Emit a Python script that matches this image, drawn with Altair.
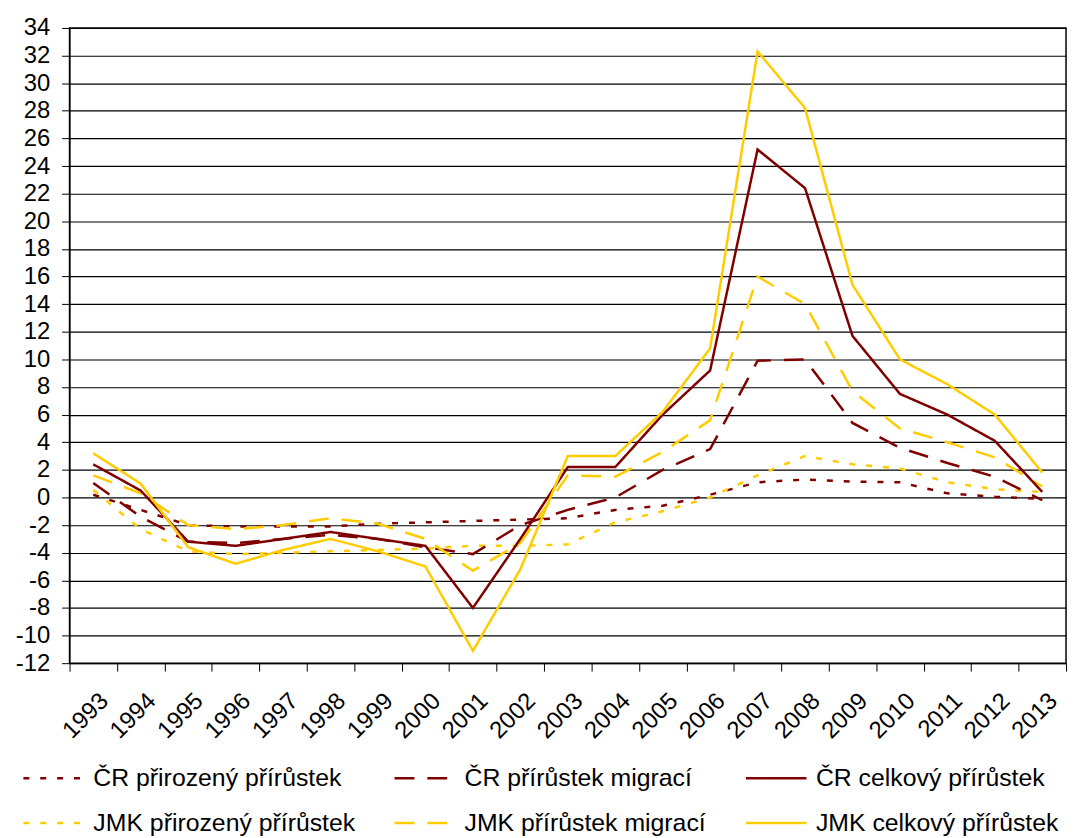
import altair as alt
import pandas as pd

years = ["1993", "1994", "1995", "1996", "1997", "1998", "1999", "2000", "2001", "2002",
         "2003", "2004", "2005", "2006", "2007", "2008", "2009", "2010", "2011", "2012", "2013"]

# order chosen so that the 3-column legend (filled column by column) reads as in the reference
series = ["ČR přirozený přírůstek", "JMK přirozený přírůstek",
          "ČR přírůstek migrací", "JMK přírůstek migrací",
          "ČR celkový přírůstek", "JMK celkový přírůstek"]

cr_nat = [0.2, -0.9, -2.0, -2.1, -2.1, -2.1, -1.9, -1.8, -1.7, -1.6, -1.5,
          -0.9, -0.6, 0.2, 1.1, 1.3, 1.15, 1.1, 0.3, 0.05, -0.1]
cr_mig = [1.05, -1.4, -3.2, -3.3, -3.0, -2.7, -3.0, -3.6, -4.1, -2.0, -0.9,
          0.0, 2.0, 3.5, 9.9, 10.0, 5.4, 3.6, 2.5, 1.5, -0.2]
cr_tot = [2.4, 0.5, -3.2, -3.5, -3.0, -2.5, -3.0, -3.5, -8.0, -3.0, 2.2,
          2.2, 6.0, 9.2, 25.2, 22.4, 11.7, 7.5, 6.0, 4.1, 0.4]
jmk_nat = [0.55, -2.3, -3.9, -4.1, -4.0, -3.9, -3.8, -3.7, -3.5, -3.5, -3.4,
           -1.8, -1.0, 0.0, 1.6, 3.0, 2.4, 2.1, 1.1, 0.6, 0.4]
jmk_mig = [1.6, 0.3, -2.0, -2.3, -2.0, -1.5, -1.9, -3.0, -5.3, -3.3, 1.6,
           1.5, 3.3, 5.6, 16.0, 14.0, 7.7, 5.0, 4.0, 2.9, 0.8]
jmk_tot = [3.2, 1.0, -3.6, -4.8, -3.8, -3.0, -3.9, -5.0, -11.1, -5.2, 3.0,
           3.0, 6.2, 10.8, 32.3, 28.2, 15.4, 10.0, 8.2, 6.0, 1.8]

colors = ["#800000", "#FFCC00", "#800000", "#FFCC00", "#800000", "#FFCC00"]
dashes = [[6, 11], [6, 11], [20, 13], [20, 13], [1, 0], [1, 0]]
widths = [2.5, 2.5, 2.5, 2.5, 3, 3]

values = [cr_nat, jmk_nat, cr_mig, jmk_mig, cr_tot, jmk_tot]
rows = []
for name, vals in zip(series, values):
    for yr, v in zip(years, vals):
        rows.append({"rok": yr, "hodnota": v, "rada": name})
df = pd.DataFrame(rows)

legend = alt.Legend(
    title=None, orient="none", legendX=-48, legendY=724, columns=3,
    symbolType="stroke", symbolSize=3721, labelFontSize=25,
    labelFont="Liberation Sans", labelColor="black", labelLimit=500,
    columnPadding=34, rowPadding=-11, labelOffset=8, gridAlign="each",
)

chart = alt.Chart(df).mark_line(clip=False).encode(
    x=alt.X("rok:O", sort=years, bandPosition=0.5,
            scale=alt.Scale(type="band", paddingInner=0, paddingOuter=0),
            axis=alt.Axis(title=None, tickBand="extent", tickSize=8, tickColor="black",
                          domainColor="black", labelAngle=-45, labelAlign="right",
                          labelBaseline="middle", labelFontSize=24,
                          labelFont="Liberation Sans", labelColor="black",
                          labelPadding=26, labelOffset=11, grid=False)),
    y=alt.Y("hodnota:Q",
            scale=alt.Scale(domain=[-12, 34], nice=False, zero=False),
            axis=alt.Axis(title=None, values=list(range(-12, 36, 2)), grid=True,
                          gridColor="black", gridWidth=1.2, gridOpacity=1,
                          domainColor="black", tickColor="black", tickSize=8,
                          labelFontSize=24, labelFont="Liberation Sans",
                          labelColor="black", labelPadding=12,
                          labelExpr="toString(datum.value)")),
    color=alt.Color("rada:N", sort=series,
                    scale=alt.Scale(domain=series, range=colors), legend=legend),
    strokeDash=alt.StrokeDash("rada:N", sort=series,
                              scale=alt.Scale(domain=series, range=dashes), legend=legend),
    strokeWidth=alt.StrokeWidth("rada:N", sort=series,
                                scale=alt.Scale(domain=series, range=widths), legend=legend),
    order=alt.Order("rok:O"),
).properties(
    width=1004, height=640,
    padding={"left": 62, "top": 17, "right": 3, "bottom": 173},
    autosize=alt.AutoSizeParams(type="none"),
).configure_view(stroke="black", strokeWidth=1.5)

chart.save("out.html", embed_options={"renderer": "svg", "actions": False})
